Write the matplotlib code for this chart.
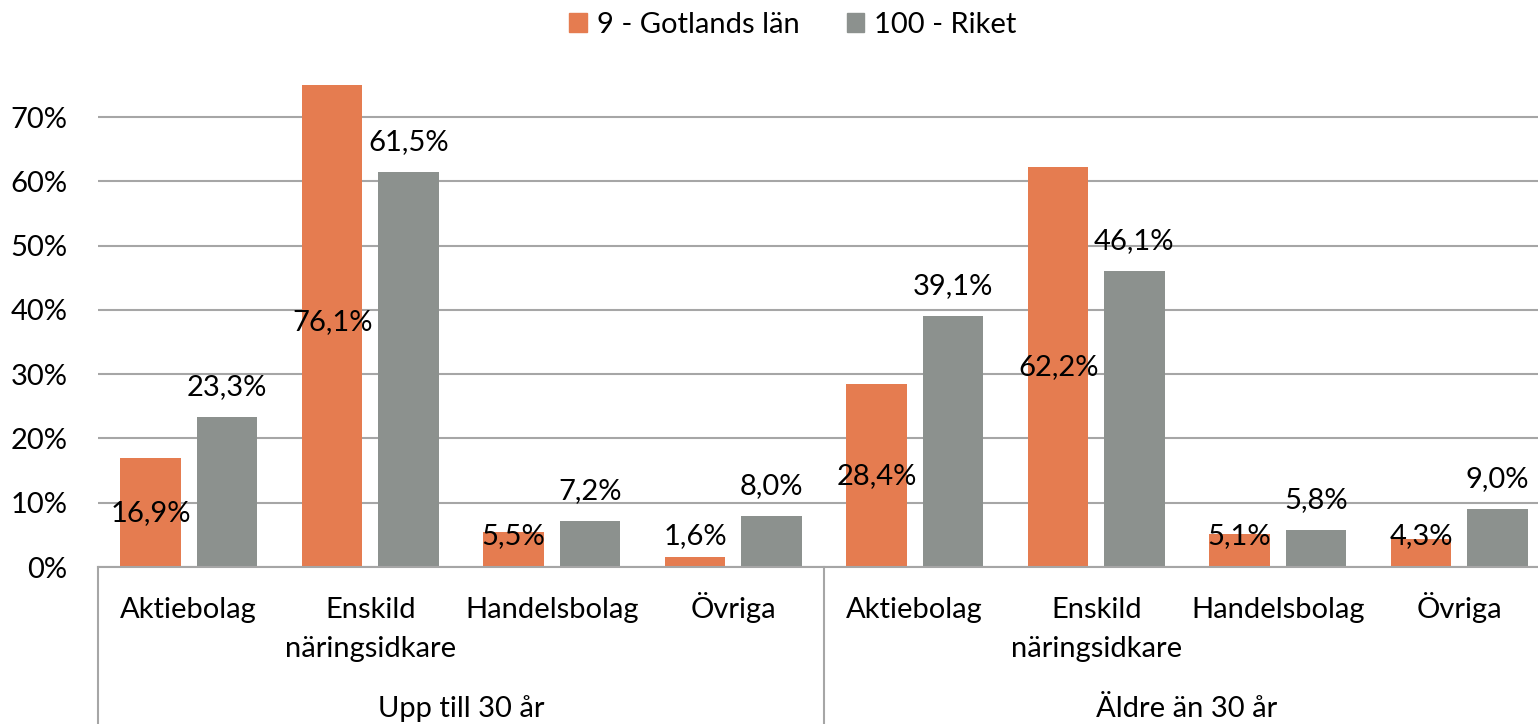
import numpy as np
import matplotlib
matplotlib.use('Agg')
import matplotlib.pyplot as plt
from matplotlib.patches import Patch
from matplotlib.transforms import blended_transform_factory

# data
kategorier = ['Aktiebolag', 'Enskild\nnäringsidkare', 'Handelsbolag', 'Övriga',
              'Aktiebolag', 'Enskild\nnäringsidkare', 'Handelsbolag', 'Övriga']
grupper = ['Upp till 30 år', 'Äldre än 30 år']
gotland = [0.169, 0.761, 0.055, 0.016, 0.284, 0.622, 0.051, 0.043]
riket = [0.233, 0.615, 0.072, 0.080, 0.391, 0.461, 0.058, 0.090]
serier = ['9 - Gotlands län', '100 - Riket']

orange = '#E57C50'
gra = '#8C918E'
linjefarg = '#A6A6A6'

plt.rcParams['font.family'] = ['Lato', 'DejaVu Sans']
fs = 21

fig = plt.figure(figsize=(15.38, 7.24), dpi=100)
ax = fig.add_axes([98 / 1538, 1 - 567 / 724, (1550 - 98) / 1538, (567 - 85) / 724])

x = np.arange(len(kategorier))
bredd = 0.333
off = 0.21
ax.bar(x - off, gotland, bredd, color=orange, zorder=2)
ax.bar(x + off, riket, bredd, color=gra, zorder=2)

ax.set_xlim(-0.5, 7.5)
ax.set_ylim(0, 0.75)
ax.set_yticks(np.arange(0, 0.71, 0.1))
ax.set_yticklabels([f'{int(round(t * 100))}%' for t in np.arange(0, 0.71, 0.1)], fontsize=fs)
ax.tick_params(axis='y', length=0, pad=22)
ax.yaxis.grid(True, color=linjefarg, lw=1.5, zorder=0)
ax.set_axisbelow(True)
for s in ['top', 'right', 'left']:
    ax.spines[s].set_visible(False)
ax.spines['bottom'].set_color(linjefarg)
ax.spines['bottom'].set_linewidth(1.5)
ax.set_xticks([])

# kategorietiketter, rad för rad på gemensam baslinje
trans = blended_transform_factory(ax.transData, ax.transAxes)
ax_h = 567 - 85
for xi, k in zip(x, kategorier):
    for j, rad in enumerate(k.split('\n')):
        ax.text(xi, (567 - (618 + 39 * j)) / ax_h, rad, transform=trans,
                ha='center', va='baseline', fontsize=fs)

# datalabels
for xi, v in zip(x, gotland):
    ax.text(xi - off, max(v / 2, 0.048), f'{v * 100:.1f}%'.replace('.', ','),
            ha='center', va='center', fontsize=fs, zorder=3)
for xi, v in zip(x, riket):
    ax.annotate(f'{v * 100:.1f}%'.replace('.', ','), (xi + off, v), xytext=(0, 21.6),
                textcoords='offset points', ha='center', va='center', fontsize=fs)

# grupper
for xs in [-0.5, 3.5, 7.5]:
    ax.axvline(xs, ymin=-0.33, ymax=0, color=linjefarg, lw=1.5, clip_on=False)
for i, g in enumerate(grupper):
    ax.text(1.5 + 4 * i, (567 - 717) / ax_h, g, transform=trans, ha='center', va='baseline',
            fontsize=fs)

handles = [Patch(color=orange), Patch(color=gra)]
fig.legend(handles, serier, loc='center', bbox_to_anchor=(793 / 1538, 1 - 25 / 724), ncol=2,
           frameon=False, fontsize=fs, handlelength=0.6, handleheight=0.6,
           handletextpad=0.35, columnspacing=1.6)

fig.savefig('out.png', dpi=100)
